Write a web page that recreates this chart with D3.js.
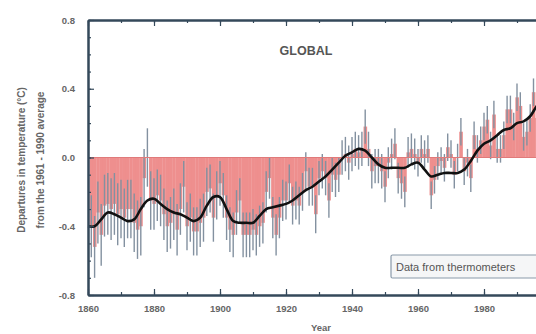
<!DOCTYPE html>
<html>
<head>
<meta charset="utf-8">
<script src="https://cdn.jsdelivr.net/npm/d3@7"></script>
<style>
  body { margin: 0; background: #fff; }
  svg { display: block; font-family: "Liberation Sans", Arial, sans-serif; }
</style>
</head>
<body>
<div id="chart"></div>
<script>
// annual global temperature departures (deg C), 1861 onwards
const firstYear = 1861;
const anomalies = [
  -0.40, -0.52, -0.32, -0.45, -0.28, -0.27, -0.30, -0.27, -0.33, -0.30,
  -0.35, -0.30, -0.30, -0.38, -0.42, -0.40, -0.12, 0.00, -0.25, -0.27,
  -0.22, -0.25, -0.33, -0.40, -0.38, -0.33, -0.42, -0.30, -0.17, -0.40,
  -0.35, -0.43, -0.43, -0.38, -0.35, -0.20, -0.18, -0.35, -0.22, -0.15,
  -0.22, -0.35, -0.42, -0.45, -0.32, -0.25, -0.45, -0.45, -0.45, -0.42,
  -0.45, -0.40, -0.38, -0.20, -0.12, -0.35, -0.45, -0.35, -0.25, -0.25,
  -0.15, -0.28, -0.25, -0.28, -0.20, -0.08, -0.17, -0.17, -0.33, -0.12,
  -0.08, -0.12, -0.25, -0.10, -0.13, -0.10, 0.00, 0.02, -0.03, 0.02,
  0.05, 0.03, 0.05, 0.18, 0.05, -0.08, -0.05, -0.05, -0.08, -0.17,
  -0.03, 0.02, 0.08, -0.12, -0.15, -0.20, 0.03, 0.05, 0.02, -0.03,
  0.05, 0.02, 0.05, -0.22, -0.13, -0.05, -0.02, -0.06, 0.06, 0.02,
  -0.10, 0.00, 0.15, -0.08, -0.03, -0.12, 0.13, 0.05, 0.10, 0.18,
  0.22, 0.07, 0.25, 0.05, 0.05, 0.13, 0.28, 0.28, 0.18, 0.35,
  0.30, 0.12, 0.15, 0.23, 0.38, 0.23, 0.42, 0.55, 0.32, 0.30
];
// half-width of the error bars, one value per decade from 1860
const errDecades = [1860, 1870, 1880, 1890, 1900, 1910, 1920, 1930, 1940, 1950, 1960, 1970, 1980, 1990, 2000];
const errValues  = [0.18, 0.17, 0.15, 0.14, 0.13, 0.12, 0.11, 0.10, 0.10, 0.09, 0.08, 0.08, 0.08, 0.08, 0.08];
// smoothed curve
const smoothYears = [1860, 1862, 1864, 1866, 1868, 1870, 1872, 1874, 1876, 1878, 1880, 1882, 1884, 1886, 1888,
  1890, 1892, 1894, 1896, 1898, 1900, 1902, 1904, 1906, 1908, 1910, 1912, 1914, 1916, 1918, 1920, 1922,
  1924, 1926, 1928, 1930, 1932, 1934, 1936, 1938, 1940, 1942, 1944, 1946, 1948, 1950, 1952, 1954, 1956,
  1958, 1960, 1962, 1964, 1966, 1968, 1970, 1972, 1974, 1976, 1978, 1980, 1982, 1984, 1986, 1988, 1990,
  1992, 1994, 1996, 1998, 2000];
const smoothValues = [-0.40, -0.40, -0.36, -0.32, -0.33, -0.35, -0.37, -0.36, -0.30, -0.25, -0.24, -0.27, -0.30, -0.32, -0.33,
  -0.35, -0.37, -0.35, -0.28, -0.23, -0.23, -0.30, -0.37, -0.38, -0.38, -0.38, -0.34, -0.30, -0.29, -0.28, -0.27, -0.25,
  -0.22, -0.19, -0.17, -0.14, -0.11, -0.07, -0.03, 0.01, 0.03, 0.05, 0.04, 0.00, -0.04, -0.06, -0.06, -0.06, -0.06,
  -0.04, -0.03, -0.07, -0.11, -0.10, -0.09, -0.09, -0.09, -0.07, -0.02, 0.04, 0.08, 0.10, 0.13, 0.16, 0.17, 0.20,
  0.21, 0.24, 0.30, 0.34, 0.37];
const yMajor = [-0.8, -0.4, 0.0, 0.4, 0.8];
const xMajor = [1860, 1880, 1900, 1920, 1940, 1960, 1980];

const width = 536, height = 334;
const x = d3.scaleLinear().domain([1860, 2000]).range([88, 550]);
const y = d3.scaleLinear().domain([-0.8, 0.8]).range([295, 20]);
const errScale = d3.scaleThreshold().domain(errDecades.slice(1)).range(errValues);

const data = anomalies.map((v, i) => ({ year: firstYear + i, value: v }));
const smooth = smoothYears.map((yr, i) => ({ year: yr, value: smoothValues[i] }));

const svg = d3.select("#chart").append("svg")
  .attr("width", width)
  .attr("height", height);

// bars from zero
svg.append("g")
  .selectAll("rect")
  .data(data)
  .join("rect")
  .attr("x", d => x(d.year - 0.5))
  .attr("width", d => x(d.year + 0.5) - x(d.year - 0.5) + 0.3)
  .attr("y", d => y(Math.max(0, d.value)))
  .attr("height", d => Math.abs(y(d.value) - y(0)))
  .attr("fill", "#ee8f8e");

// error bars
svg.append("g")
  .attr("stroke", "#8391a0")
  .attr("stroke-width", 1.4)
  .selectAll("line")
  .data(data)
  .join("line")
  .attr("x1", d => x(d.year))
  .attr("x2", d => x(d.year))
  .attr("y1", d => y(d.value - errScale(d.year)))
  .attr("y2", d => y(d.value + errScale(d.year)));

// zero line
svg.append("line")
  .attr("x1", x(1860)).attr("x2", x(2000))
  .attr("y1", y(0)).attr("y2", y(0))
  .attr("stroke", "#e07a7a").attr("stroke-width", 1);

// smoothed curve
svg.append("path")
  .datum(smooth)
  .attr("fill", "none")
  .attr("stroke", "#111")
  .attr("stroke-width", 2.6)
  .attr("d", d3.line().x(d => x(d.year)).y(d => y(d.value)).curve(d3.curveCatmullRom));

const axisColor = "#34495a";
const labelColor = "#666";

function styleAxis(g) {
  g.select(".domain").attr("stroke", axisColor).attr("stroke-width", 2);
  g.selectAll(".tick line").attr("stroke", axisColor).attr("stroke-width", 1.2);
  g.selectAll("text").attr("fill", labelColor).attr("font-size", 9.5).attr("font-weight", "bold")
    .attr("font-family", "Liberation Sans, Arial, sans-serif");
}

// left axis
svg.append("g")
  .attr("transform", `translate(${x(1860)},0)`)
  .call(d3.axisLeft(y).ticks(16).tickSize(-3).tickSizeOuter(0).tickFormat(""))
  .call(styleAxis);
svg.append("g")
  .attr("transform", `translate(${x(1860)},0)`)
  .call(d3.axisLeft(y).tickValues(yMajor).tickSize(-6).tickSizeOuter(0).tickPadding(13).tickFormat(d => d.toFixed(1)))
  .call(styleAxis);

// bottom axis
svg.append("g")
  .attr("transform", `translate(0,${y(-0.8)})`)
  .call(d3.axisBottom(x).ticks(14).tickSize(-3).tickSizeOuter(0).tickFormat(""))
  .call(styleAxis);
svg.append("g")
  .attr("transform", `translate(0,${y(-0.8)})`)
  .call(d3.axisBottom(x).tickValues(xMajor).tickSize(-6).tickSizeOuter(0).tickPadding(10).tickFormat(d3.format("d")))
  .call(styleAxis);

// top axis
svg.append("g")
  .attr("transform", `translate(0,${y(0.8)})`)
  .call(d3.axisTop(x).ticks(14).tickSize(-3).tickSizeOuter(0).tickFormat(""))
  .call(styleAxis);
svg.append("g")
  .attr("transform", `translate(0,${y(0.8)})`)
  .call(d3.axisTop(x).tickValues(xMajor).tickSize(-6).tickSizeOuter(0).tickFormat(""))
  .call(styleAxis);

// titles
svg.append("text")
  .attr("x", 306).attr("y", 55)
  .attr("text-anchor", "middle")
  .attr("font-size", 12.5).attr("font-weight", "bold")
  .attr("fill", "#555")
  .text("GLOBAL");

svg.append("text")
  .attr("x", 321).attr("y", 331)
  .attr("text-anchor", "middle")
  .attr("font-size", 9.5).attr("font-weight", "bold")
  .attr("fill", labelColor)
  .text("Year");

const yTitle = svg.append("g")
  .attr("transform", "translate(0,160) rotate(-90)")
  .attr("text-anchor", "middle")
  .attr("font-size", 10).attr("font-weight", "bold")
  .attr("fill", labelColor);
yTitle.append("text").attr("x", 0).attr("y", 25).text("Departures in temperature (\u00B0C)");
yTitle.append("text").attr("x", 0).attr("y", 44).text("from the 1961 - 1990 average");

// legend box
const legend = svg.append("g").attr("transform", "translate(391,255)");
legend.append("rect")
  .attr("width", 170).attr("height", 23).attr("rx", 1.5)
  .attr("fill", "#f5f6f7").attr("stroke", "#8a9aaa").attr("stroke-width", 1.2);
legend.append("text")
  .attr("x", 5).attr("y", 16)
  .attr("font-size", 11).attr("fill", "#555")
  .text("Data from thermometers");
</script>
</body>
</html>
